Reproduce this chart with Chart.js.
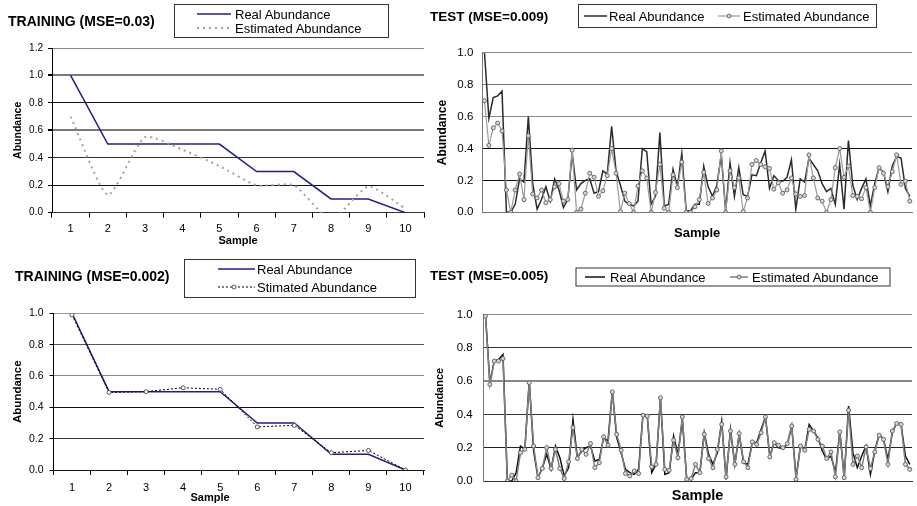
<!DOCTYPE html>
<html>
<head>
<meta charset="utf-8">
<script src="https://cdn.jsdelivr.net/npm/chart.js@4.4.0/dist/chart.umd.min.js"></script>
<style>
body { margin: 0; width: 917px; height: 506px; background: #fff; overflow: hidden; position: relative; }
.box { position: absolute; }
#overlay { position: absolute; left: 0; top: 0; pointer-events: none; }
</style>
</head>
<body>
<div class="box" style="left:0;top:37px;width:430px;height:213px"><canvas id="trainTop" width="430" height="213"></canvas></div>
<div class="box" style="left:420px;top:37px;width:497px;height:213px"><canvas id="testTop" width="497" height="213"></canvas></div>
<div class="box" style="left:0;top:301px;width:430px;height:205px"><canvas id="trainBottom" width="430" height="205"></canvas></div>
<div class="box" style="left:420px;top:297px;width:497px;height:209px"><canvas id="testBottom" width="497" height="209"></canvas></div>

<svg id="overlay" width="917" height="506" font-family="Liberation Sans, Arial, sans-serif">
  <!-- top left -->
  <text x="8" y="21" font-size="14" font-weight="bold" dominant-baseline="central">TRAINING (MSE=0.03)</text>
  <rect x="174.5" y="4.5" width="214" height="33" fill="#fff" stroke="#333"/>
  <line x1="197" y1="14" x2="231" y2="14" stroke="#1f1f85" stroke-width="1.5"/>
  <text x="235" y="14" font-size="13" dominant-baseline="central">Real Abundance</text>
  <line x1="197" y1="28" x2="231" y2="28" stroke="#a3a3a3" stroke-width="2" stroke-dasharray="2 4"/>
  <text x="235" y="28" font-size="13" dominant-baseline="central">Estimated Abundance</text>

  <!-- top right -->
  <text x="430" y="16" font-size="13.5" font-weight="bold" dominant-baseline="central">TEST (MSE=0.009)</text>
  <rect x="578.5" y="4.5" width="298" height="23" fill="#fff" stroke="#333"/>
  <line x1="584" y1="16" x2="607" y2="16" stroke="#2b2b2b" stroke-width="1.5"/>
  <text x="609" y="16" font-size="13" dominant-baseline="central">Real Abundance</text>
  <line x1="718" y1="16" x2="740" y2="16" stroke="#9a9a9a" stroke-width="1.2"/>
  <circle cx="729" cy="16" r="2" fill="#d8d8d8" stroke="#6a6a6a"/>
  <text x="743" y="16" font-size="13" dominant-baseline="central">Estimated Abundance</text>

  <!-- bottom left -->
  <text x="15" y="276" font-size="14" font-weight="bold" dominant-baseline="central">TRAINING (MSE=0.002)</text>
  <rect x="184.5" y="259.5" width="231" height="38" fill="#fff" stroke="#333"/>
  <line x1="218" y1="269" x2="255" y2="269" stroke="#1f1f85" stroke-width="1.5"/>
  <text x="257" y="269" font-size="13" dominant-baseline="central">Real Abundance</text>
  <line x1="218" y1="287" x2="255" y2="287" stroke="#000" stroke-width="1" stroke-dasharray="2 2"/>
  <circle cx="234" cy="287" r="2" fill="#fff" stroke="#555"/>
  <text x="257" y="287" font-size="13" dominant-baseline="central">Stimated Abundance</text>
  <text x="210" y="497" font-size="11" font-weight="bold" text-anchor="middle" dominant-baseline="central">Sample</text>

  <!-- bottom right -->
  <text x="430" y="275" font-size="13.5" font-weight="bold" dominant-baseline="central">TEST (MSE=0.005)</text>
  <rect x="576" y="268" width="314" height="18" fill="#fff" stroke="#333"/>
  <line x1="585" y1="277" x2="605" y2="277" stroke="#111" stroke-width="1.5"/>
  <text x="610" y="277" font-size="13" dominant-baseline="central">Real Abundance</text>
  <line x1="730" y1="277" x2="748" y2="277" stroke="#7f7f7f" stroke-width="1.5"/>
  <circle cx="739" cy="277" r="2" fill="#d8d8d8" stroke="#666"/>
  <text x="752" y="277" font-size="13" dominant-baseline="central">Estimated Abundance</text>
</svg>

<script>
// training set (10 samples)
const trainSamples = ['1', '2', '3', '4', '5', '6', '7', '8', '9', '10']
const trainReal = [1.0, 0.5, 0.5, 0.5, 0.5, 0.3, 0.3, 0.1, 0.1, 0.0]
const trainEstTop = [0.70, 0.13, 0.55, 0.46, 0.34, 0.20, 0.20, -0.05, 0.19, 0.03]
const trainEstBottom = [0.99, 0.495, 0.50, 0.525, 0.515, 0.275, 0.285, 0.11, 0.125, 0.0]

// test set (98 samples), real abundance is the same in both test panels
const testReal = [
    1.00, 0.59, 0.72, 0.73, 0.76, 0.00, 0.00, 0.05, 0.21, 0.19,
    0.60, 0.18, 0.02, 0.08, 0.16, 0.07, 0.21, 0.14, 0.03, 0.08,
    0.37, 0.14, 0.18, 0.20, 0.21, 0.12, 0.13, 0.26, 0.24, 0.54,
    0.26, 0.17, 0.07, 0.05, 0.04, 0.07, 0.40, 0.38, 0.05, 0.10,
    0.50, 0.04, 0.05, 0.27, 0.16, 0.37, 0.01, 0.01, 0.05,
    0.05, 0.29, 0.16, 0.10, 0.17, 0.36, 0.01, 0.31, 0.10, 0.28,
    0.11, 0.10, 0.235, 0.23, 0.31, 0.385, 0.15, 0.23, 0.20, 0.195,
    0.22, 0.33, 0.02, 0.21, 0.19, 0.34, 0.30, 0.26, 0.18, 0.13,
    0.15, 0.05, 0.30, 0.02, 0.45, 0.17, 0.08, 0.15, 0.21, 0.04,
    0.18, 0.28, 0.25, 0.13, 0.29, 0.35, 0.34, 0.15, 0.10
]
const testEstTop = [
    0.70, 0.42, 0.53, 0.56, 0.51, 0.14, 0.00, 0.14, 0.24, 0.08,
    0.48, 0.115, 0.09, 0.14, 0.06, 0.08, 0.16, 0.18, 0.07, 0.08,
    0.39, 0.00, 0.02, 0.12, 0.245, 0.22, 0.10, 0.135, 0.23, 0.40,
    0.245, 0.005, 0.12, 0.055, 0.00, 0.165, 0.26, 0.215, 0.00, 0.125,
    0.30, 0.025, 0.00, 0.235, 0.155, 0.315, 0.00, 0.00, 0.035,
    0.08, 0.25, 0.055, 0.09, 0.14, 0.385, 0.00, 0.26, 0.155, 0.215,
    0.005, 0.09, 0.30, 0.325, 0.30, 0.285, 0.275, 0.145, 0.185, 0.12,
    0.14, 0.215, 0.115, 0.10, 0.105, 0.36, 0.215, 0.09, 0.07, 0.00,
    0.08, 0.28, 0.40, 0.22, 0.29, 0.105, 0.10, 0.085, 0.155, 0.00,
    0.155, 0.28, 0.245, 0.16, 0.255, 0.36, 0.175, 0.195, 0.07
]
const testEstBottom = [
    0.99, 0.58, 0.72, 0.72, 0.735, 0.00, 0.035, 0.00, 0.17, 0.19,
    0.59, 0.21, 0.02, 0.075, 0.20, 0.075, 0.19, 0.075, 0.015, 0.115,
    0.32, 0.135, 0.19, 0.16, 0.225, 0.08, 0.11, 0.265, 0.215, 0.535,
    0.28, 0.185, 0.045, 0.03, 0.06, 0.045, 0.395, 0.39, 0.085, 0.10,
    0.50, 0.07, 0.065, 0.245, 0.14, 0.385, 0.01, 0.015, 0.10,
    0.05, 0.28, 0.135, 0.08, 0.19, 0.34, 0.025, 0.30, 0.10, 0.285,
    0.115, 0.08, 0.235, 0.22, 0.29, 0.385, 0.145, 0.23, 0.215, 0.20,
    0.225, 0.33, 0.01, 0.21, 0.185, 0.31, 0.30, 0.25, 0.21, 0.135,
    0.175, 0.025, 0.295, 0.02, 0.425, 0.10, 0.15, 0.08, 0.205, 0.075,
    0.175, 0.275, 0.25, 0.10, 0.30, 0.345, 0.34, 0.10, 0.07
]
const testSamples = testReal.map((v, i) => String(i + 1))

Chart.defaults.font.family = '"Liberation Sans", Arial, sans-serif'
Chart.defaults.color = '#000'

// scanned gridlines are uneven: one colour / width per 0.2 step
function gridFor(colors, widths) {
    return {
        color: c => c.tick ? colors[Math.round(c.tick.value * 5)] : '#333',
        lineWidth: c => c.tick ? widths[Math.round(c.tick.value * 5)] : 1
    }
}

function baseOptions(pad, x, y) {
    return {
        animation: false,
        responsive: false,
        devicePixelRatio: 1,
        layout: { padding: { left: 0, top: pad.top, right: pad.right, bottom: 0 } },
        plugins: { legend: { display: false }, tooltip: { enabled: false } },
        scales: { x: x, y: y }
    }
}

// top left: training, MSE=0.03
new Chart(document.getElementById('trainTop'), {
    type: 'line',
    data: {
        labels: trainSamples,
        datasets: [
            { label: 'Estimated Abundance', data: trainEstTop, borderColor: '#a3a3a3', borderWidth: 2, borderDash: [2, 4], pointRadius: 0, tension: 0.2, order: 0 },
            { label: 'Real Abundance', data: trainReal, borderColor: '#1f1f85', borderWidth: 1.5, pointRadius: 0, tension: 0, order: 1 }
        ]
    },
    options: baseOptions({ top: 10.3, right: 6 },
        {
            offset: true,
            afterFit: s => { s.height = 37.3 },
            grid: { offset: true, drawOnChartArea: false, tickLength: 5, tickColor: '#000' },
            border: { display: true, color: '#333' },
            ticks: { padding: 5, font: { size: 11 }, maxRotation: 0, autoSkip: false },
            title: { display: true, text: 'Sample', font: { size: 11, weight: 'bold' }, padding: { top: 0, bottom: 2.4 } }
        },
        {
            min: 0, max: 1.2,
            afterFit: s => { s.width = 52 },
            ticks: { stepSize: 0.2, padding: 5, font: { size: 10 }, callback: v => v.toFixed(1) },
            grid: Object.assign(gridFor(['#555', '#111', '#333', '#7a7a7a', '#111', '#7a7a7a', '#888'], [1, 1, 1, 2, 1, 2, 1]), { tickLength: 4, tickColor: '#000' }),
            border: { display: true, color: '#000' },
            title: { display: true, text: 'Abundance', font: { size: 10.5, weight: 'bold' }, padding: { top: 12, bottom: 0 } }
        })
})

// top right: test, MSE=0.009
new Chart(document.getElementById('testTop'), {
    type: 'line',
    data: {
        labels: testSamples,
        datasets: [
            { label: 'Estimated Abundance', data: testEstTop, borderColor: '#9a9a9a', borderWidth: 1.2, pointRadius: 2, pointBorderWidth: 1, pointBorderColor: '#6a6a6a', pointBackgroundColor: '#d8d8d8', tension: 0, order: 0 },
            { label: 'Real Abundance', data: testReal, borderColor: '#2b2b2b', borderWidth: 1.5, pointRadius: 0, tension: 0, order: 1 }
        ]
    },
    options: baseOptions({ top: 10.7, right: 0 },
        {
            offset: true,
            afterFit: s => { s.height = 37.7 },
            grid: { display: false },
            border: { display: true, color: '#777' },
            ticks: { display: false },
            title: { display: true, text: 'Sample', font: { size: 13, weight: 'bold' }, padding: { top: 0, bottom: 9 } }
        },
        {
            min: 0, max: 1,
            afterFit: s => { s.width = 62.3 },
            ticks: { stepSize: 0.2, padding: 9, font: { size: 11.5 }, callback: v => v.toFixed(1) },
            grid: Object.assign(gridFor(['#777', '#111', '#111', '#888', '#777', '#888'], [1, 1, 1, 1, 1, 1]), { drawTicks: false }),
            border: { display: true, color: '#777' },
            title: { display: true, text: 'Abundance', font: { size: 12, weight: 'bold' }, padding: { top: 15.5, bottom: 0 } }
        })
})

// bottom left: training, MSE=0.002
new Chart(document.getElementById('trainBottom'), {
    type: 'line',
    data: {
        labels: trainSamples,
        datasets: [
            { label: 'Stimated Abundance', data: trainEstBottom, borderColor: '#000', borderWidth: 1, borderDash: [2, 2], pointRadius: 2, pointBorderWidth: 1, pointBorderColor: '#555', pointBackgroundColor: '#fff', tension: 0, order: 0 },
            { label: 'Real Abundance', data: trainReal, borderColor: '#1f1f85', borderWidth: 1.5, pointRadius: 0, tension: 0, order: 1 }
        ]
    },
    options: baseOptions({ top: 10.7, right: 6 },
        {
            offset: true,
            afterFit: s => { s.height = 36 },
            grid: { offset: true, drawOnChartArea: false, tickLength: 5, tickColor: '#000' },
            border: { display: true, color: '#111' },
            ticks: { padding: 6, font: { size: 11 }, maxRotation: 0, autoSkip: false },
            title: { display: false }
        },
        {
            min: 0, max: 1,
            afterFit: s => { s.width = 53.5 },
            ticks: { stepSize: 0.2, padding: 6, font: { size: 10.5 }, callback: v => v.toFixed(1) },
            grid: Object.assign(gridFor(['#111', '#333', '#111', '#8a8a8a', '#555', '#999'], [1, 1, 1, 1, 1, 1]), { tickLength: 4, tickColor: '#000' }),
            border: { display: true, color: '#000' },
            title: { display: true, text: 'Abundance', font: { size: 11.5, weight: 'bold' }, padding: { top: 11.4, bottom: 0 } }
        })
})

// bottom right: test, MSE=0.005
new Chart(document.getElementById('testBottom'), {
    type: 'line',
    data: {
        labels: testSamples,
        datasets: [
            { label: 'Estimated Abundance', data: testEstBottom, borderColor: '#7f7f7f', borderWidth: 1.5, pointRadius: 2, pointBorderWidth: 1, pointBorderColor: '#666', pointBackgroundColor: '#d8d8d8', tension: 0, order: 0 },
            { label: 'Real Abundance', data: testReal, borderColor: '#111', borderWidth: 1.5, pointRadius: 0, tension: 0, order: 1 }
        ]
    },
    options: baseOptions({ top: 10.7, right: 0 },
        {
            offset: true,
            afterFit: s => { s.height = 25 },
            grid: { display: false },
            border: { display: true, color: '#333' },
            ticks: { display: false },
            title: { display: true, text: 'Sample', font: { size: 14.5, weight: 'bold' }, padding: { top: 0, bottom: 1.6 } }
        },
        {
            min: 0, max: 1,
            afterFit: s => { s.width = 63.3 },
            ticks: { stepSize: 0.2, padding: 10.6, font: { size: 11.5 }, callback: v => v.toFixed(1) },
            grid: Object.assign(gridFor(['#333', '#222', '#333', '#888', '#333', '#888'], [1, 1, 1, 2, 1, 1]), { drawTicks: false }),
            border: { display: true, color: '#777' },
            title: { display: true, text: 'Abundance', font: { size: 11, weight: 'bold' }, padding: { top: 13.4, bottom: 0 } }
        })
})
</script>
</body>
</html>
